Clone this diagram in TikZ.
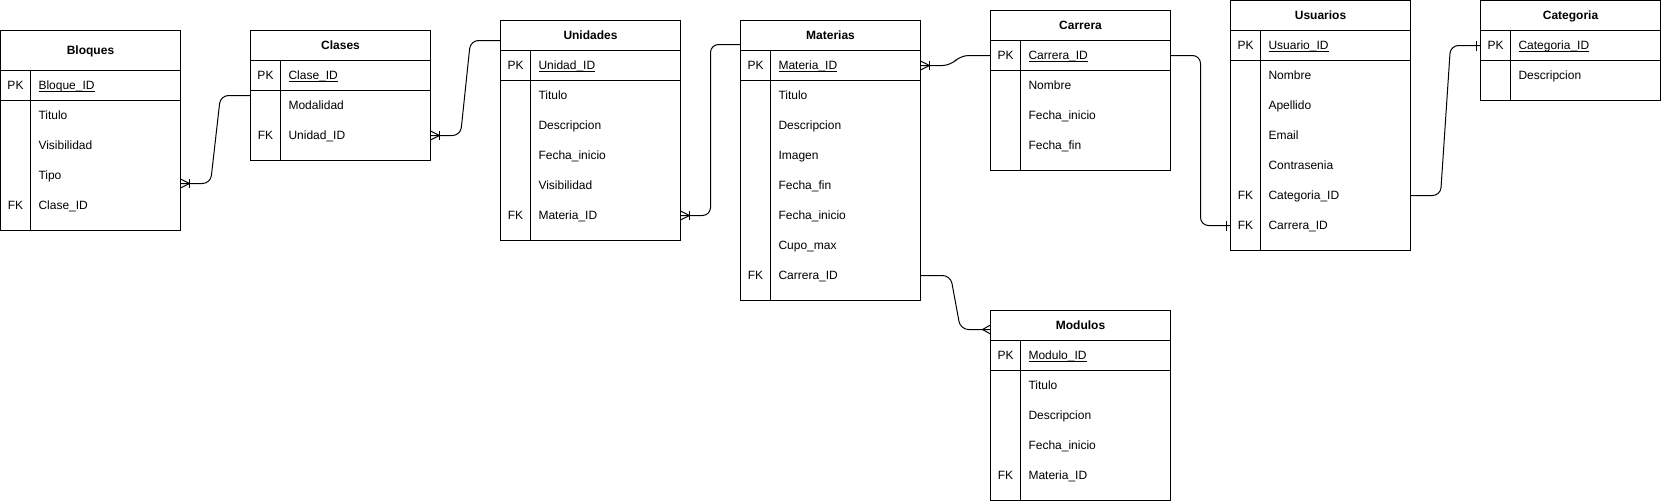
\documentclass[tikz,border=0pt]{standalone}
\usepackage{fontspec}
\setmainfont{Liberation Sans}
\usetikzlibrary{calc}
\newcommand{\uln}[1]{\setbox0\hbox{#1}\rlap{\rule[-2.3pt]{\wd0}{0.8pt}}\box0}
\def\nokey{n}
% #1 name, #2 x, #3 y, #4 header height, #5 total height, #6 title, #7 pk field, #8 rows key/field
\newcommand{\ertable}[8]{%
  \node[tbl, minimum height=#5pt] (#1) at (#2,#3) {};
  \draw[ln] ($(#1.north west)+(0,#4)$) -- ($(#1.north east)+(0,#4)$);
  \draw[ln] ($(#1.north west)+(0,{#4+30})$) -- ($(#1.north east)+(0,{#4+30})$);
  \draw[ln] ($(#1.north west)+(30,#4)$) -- ($(#1.south west)+(30,0)$);
  \node[ttl] (#1-title) at ($(#1.north)+(0,{#4/2+4.2})$) {#6};
  \node[txt, anchor=base] (#1-pk) at ($(#1.north west)+(15,{#4+19.2})$) {PK};
  \node[txt, anchor=base west] (#1-pkn) at ($(#1.north west)+(38,{#4+19.2})$) {\uln{#7}};
  \foreach \k/\f [count=\i] in {#8} {
    \node[txt, anchor=base west] (#1-f\i) at ($(#1.north west)+(38,{#4+30*\i+19.2})$) {\f};
    \ifx\k\nokey\else
      \node[txt, anchor=base] (#1-k\i) at ($(#1.north west)+(15,{#4+30*\i+19.2})$) {\k};
    \fi
  }
}
\begin{document}
\begin{tikzpicture}[x=1pt,y=-1pt,
  tbl/.style={draw, line width=1pt, minimum width=180pt, inner sep=0pt, outer sep=0pt, anchor=north west},
  ln/.style={line width=1pt},
  txt/.style={inner sep=0pt, outer sep=0pt, font=\fontsize{12}{14}\selectfont},
  ttl/.style={inner sep=0pt, outer sep=0pt, anchor=base, font=\fontsize{12}{14}\selectfont\bfseries},
  conn/.style={draw, line width=1pt, rounded corners=8pt},
  mk/.style={draw, line width=1pt},
  crowbar/.pic={\draw[mk] (0,-4.5) -- (9,0) -- (0,4.5); \draw[mk] (9,-4.5) -- (9,4.5);},
  crowin/.pic={\draw[mk] (0,-4.5) -- (-8,0) -- (0,4.5);},
  onebar/.pic={\draw[mk] (-4,-5) -- (-4,5);}
]
\useasboundingbox (0,0) rectangle (1661,501);

\ertable{bloques}{0.5}{30.5}{40}{200}{Bloques}{Bloque\_ID}{n/Titulo, n/Visibilidad, n/Tipo, FK/Clase\_ID}
\ertable{clases}{250.5}{30.5}{30}{130}{Clases}{Clase\_ID}{n/Modalidad, FK/Unidad\_ID}
\ertable{unidades}{500.5}{20.5}{30}{220}{Unidades}{Unidad\_ID}{n/Titulo, n/Descripcion, n/Fecha\_inicio, n/Visibilidad, FK/Materia\_ID}
\ertable{materias}{740.5}{20.5}{30}{280}{Materias}{Materia\_ID}{n/Titulo, n/Descripcion, n/Imagen, n/Fecha\_fin, n/Fecha\_inicio, n/Cupo\_max, FK/Carrera\_ID}
\ertable{carrera}{990.5}{10.5}{30}{160}{Carrera}{Carrera\_ID}{n/Nombre, n/Fecha\_inicio, n/Fecha\_fin}
\ertable{usuarios}{1230.5}{0.5}{30}{250}{Usuarios}{Usuario\_ID}{n/Nombre, n/Apellido, n/Email, n/Contrasenia, FK/Categoria\_ID, FK/Carrera\_ID}
\ertable{categoria}{1480.5}{0.5}{30}{100}{Categoria}{Categoria\_ID}{n/Descripcion}
\ertable{modulos}{990.5}{310.5}{30}{190}{Modulos}{Modulo\_ID}{n/Titulo, n/Descripcion, n/Fecha\_inicio, FK/Materia\_ID}

% connector end points
\coordinate (e1a) at ($(bloques.north east)+(0,153)$);
\coordinate (e1b) at ($(clases.north west)+(0,65)$);
\coordinate (e2a) at ($(clases.north east)+(0,105)$);
\coordinate (e2b) at ($(unidades.north west)+(0,20)$);
\coordinate (e3a) at ($(unidades.north east)+(0,195)$);
\coordinate (e3b) at ($(materias.north west)+(0,24)$);
\coordinate (e4a) at ($(materias.north east)+(0,45)$);
\coordinate (e4b) at ($(carrera.north west)+(0,45)$);
\coordinate (e5a) at ($(carrera.north east)+(0,45)$);
\coordinate (e5b) at ($(usuarios.north west)+(0,225)$);
\coordinate (e6a) at ($(usuarios.north east)+(0,195)$);
\coordinate (e6b) at ($(categoria.north west)+(0,45)$);
\coordinate (e7a) at ($(materias.north east)+(0,255)$);
\coordinate (e7b) at ($(modulos.north west)+(0,19)$);

\foreach \e in {1,...,7} {
  \draw[conn] (e\e a) -- ++(30,0) -- ($(e\e b)+(-30,0)$) -- (e\e b);
}

\pic at (e1a) {crowbar};
\pic at (e2a) {crowbar};
\pic at (e3a) {crowbar};
\pic at (e4a) {crowbar};
\pic at (e5b) {onebar};
\pic at (e6b) {onebar};
\pic at (e7b) {crowin};
\end{tikzpicture}
\end{document}
